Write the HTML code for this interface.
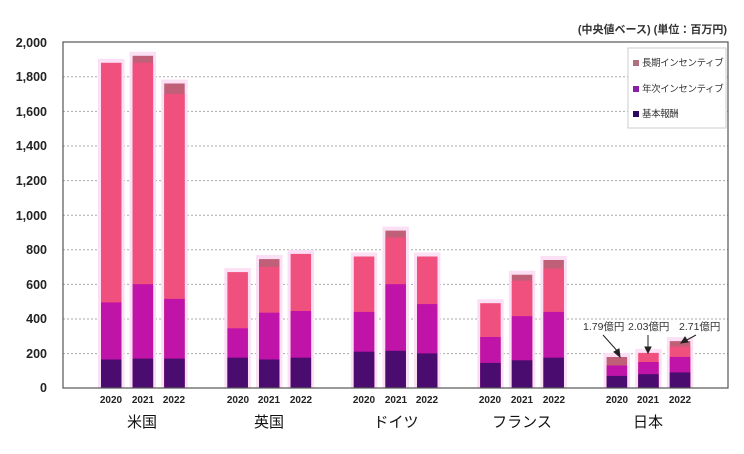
<!DOCTYPE html>
<html><head><meta charset="utf-8"><style>
body{margin:0;background:#fff;}
svg{display:block;font-family:"Liberation Sans","Noto Sans CJK JP",sans-serif;}
.g{fill:#fbe0f5}.c{fill:#c06078}.l{fill:#f0507d}.a{fill:#c013a8}.b{fill:#4a0c6e}
</style></head><body>
<svg width="744" height="454" viewBox="0 0 744 454">
<rect width="744" height="454" fill="#fff"/>
<g stroke="#aaa" stroke-dasharray="2,2" stroke-width="1">
<line x1="63" x2="728" y1="76.8" y2="76.8"/><line x1="63" x2="728" y1="111.4" y2="111.4"/>
<line x1="63" x2="728" y1="146" y2="146"/><line x1="63" x2="728" y1="180.6" y2="180.6"/>
<line x1="63" x2="728" y1="215.2" y2="215.2"/><line x1="63" x2="728" y1="249.8" y2="249.8"/>
<line x1="63" x2="728" y1="284.4" y2="284.4"/><line x1="63" x2="728" y1="319" y2="319"/>
<line x1="63" x2="728" y1="353.6" y2="353.6"/>
</g>
<g>
<!-- US -->
<rect class="g" x="98" y="58.8" width="26.5" height="329.2"/><rect class="l" x="101" y="62.8" width="20.5" height="325.2"/><rect class="a" x="101" y="302.4" width="20.5" height="85.6"/><rect class="b" x="101" y="359.5" width="20.5" height="28.5"/>
<rect class="g" x="129.6" y="51.8" width="26.5" height="336.2"/><rect class="c" x="132.6" y="55.8" width="20.5" height="332.2"/><rect class="l" x="132.6" y="62.8" width="20.5" height="325.2"/><rect class="a" x="132.6" y="284.2" width="20.5" height="103.8"/><rect class="b" x="132.6" y="358.6" width="20.5" height="29.4"/>
<rect class="g" x="161.2" y="79.5" width="26.5" height="308.5"/><rect class="c" x="164.2" y="83.5" width="20.5" height="304.5"/><rect class="l" x="164.2" y="93.9" width="20.5" height="294.1"/><rect class="a" x="164.2" y="298.9" width="20.5" height="89.1"/><rect class="b" x="164.2" y="358.6" width="20.5" height="29.4"/>
<!-- UK -->
<rect class="g" x="224.4" y="268.1" width="26.5" height="119.9"/><rect class="l" x="227.4" y="272.1" width="20.5" height="115.9"/><rect class="a" x="227.4" y="328.3" width="20.5" height="59.7"/><rect class="b" x="227.4" y="357.7" width="20.5" height="30.3"/>
<rect class="g" x="256" y="255.1" width="26.5" height="132.9"/><rect class="c" x="259" y="259.1" width="20.5" height="128.9"/><rect class="l" x="259" y="266.9" width="20.5" height="121.1"/><rect class="a" x="259" y="312.7" width="20.5" height="75.3"/><rect class="b" x="259" y="359.5" width="20.5" height="28.5"/>
<rect class="g" x="287.6" y="249.9" width="26.5" height="138.1"/><rect class="l" x="290.6" y="253.9" width="20.5" height="134.1"/><rect class="a" x="290.6" y="311" width="20.5" height="77"/><rect class="b" x="290.6" y="357.7" width="20.5" height="30.3"/>
<!-- Germany -->
<rect class="g" x="350.8" y="252.5" width="26.5" height="135.5"/><rect class="l" x="353.8" y="256.5" width="20.5" height="131.5"/><rect class="a" x="353.8" y="311.9" width="20.5" height="76.1"/><rect class="b" x="353.8" y="351.7" width="20.5" height="36.3"/>
<rect class="g" x="382.4" y="226.6" width="26.5" height="161.4"/><rect class="c" x="385.4" y="230.6" width="20.5" height="157.4"/><rect class="l" x="385.4" y="237.5" width="20.5" height="150.5"/><rect class="a" x="385.4" y="284.2" width="20.5" height="103.8"/><rect class="b" x="385.4" y="350.8" width="20.5" height="37.2"/>
<rect class="g" x="414" y="252.5" width="26.5" height="135.5"/><rect class="l" x="417" y="256.5" width="20.5" height="131.5"/><rect class="a" x="417" y="304.1" width="20.5" height="83.9"/><rect class="b" x="417" y="353.4" width="20.5" height="34.6"/>
<!-- France -->
<rect class="g" x="477.2" y="299.2" width="26.5" height="88.8"/><rect class="l" x="480.2" y="303.2" width="20.5" height="84.8"/><rect class="a" x="480.2" y="337" width="20.5" height="51"/><rect class="b" x="480.2" y="362.9" width="20.5" height="25.1"/>
<rect class="g" x="508.8" y="270.7" width="26.5" height="117.3"/><rect class="c" x="511.8" y="274.7" width="20.5" height="113.3"/><rect class="l" x="511.8" y="280.7" width="20.5" height="107.3"/><rect class="a" x="511.8" y="316.2" width="20.5" height="71.8"/><rect class="b" x="511.8" y="360.3" width="20.5" height="27.7"/>
<rect class="g" x="540.4" y="256" width="26.5" height="132"/><rect class="c" x="543.4" y="260" width="20.5" height="128"/><rect class="l" x="543.4" y="268.6" width="20.5" height="119.4"/><rect class="a" x="543.4" y="311.9" width="20.5" height="76.1"/><rect class="b" x="543.4" y="357.7" width="20.5" height="30.3"/>
<!-- Japan -->
<rect class="g" x="603.6" y="353" width="26.5" height="35"/><rect class="c" x="606.6" y="357" width="20.5" height="31"/><rect class="a" x="606.6" y="365.5" width="20.5" height="22.5"/><rect class="b" x="606.6" y="375.9" width="20.5" height="12.1"/>
<rect class="g" x="635.2" y="348.9" width="26.5" height="39.1"/><rect class="l" x="638.2" y="352.9" width="20.5" height="35.1"/><rect class="a" x="638.2" y="362" width="20.5" height="26"/><rect class="b" x="638.2" y="374.2" width="20.5" height="13.8"/>
<rect class="g" x="666.8" y="337.1" width="26.5" height="50.9"/><rect class="c" x="669.8" y="341.1" width="20.5" height="46.9"/><rect class="l" x="669.8" y="346.5" width="20.5" height="41.5"/><rect class="a" x="669.8" y="356.9" width="20.5" height="31.1"/><rect class="b" x="669.8" y="372.4" width="20.5" height="15.6"/>
</g>
<rect x="63" y="42" width="665" height="346" fill="none" stroke="#555" stroke-width="1.2"/>
<g font-size="12.5" font-weight="bold" fill="#222" text-anchor="end">
<text x="47" y="47">2,000</text><text x="47" y="81">1,800</text><text x="47" y="116">1,600</text>
<text x="47" y="150">1,400</text><text x="47" y="185">1,200</text><text x="47" y="220">1,000</text>
<text x="47" y="254">800</text><text x="47" y="289">600</text><text x="47" y="323">400</text>
<text x="47" y="358">200</text><text x="47" y="392">0</text>
</g>
<text x="727" y="33" font-size="11" font-weight="bold" fill="#333" text-anchor="end">(中央値ベース) (単位：百万円)</text>
<rect x="628" y="48" width="98" height="80" fill="#fff" stroke="#ccc"/>
<g font-size="9.5" fill="#333" letter-spacing="-0.4">
<rect x="633" y="60" width="6" height="6" fill="#b07080"/><text x="642" y="66">長期インセンティブ</text>
<rect x="633" y="86" width="6" height="6" fill="#8a20a8"/><text x="642" y="92">年次インセンティブ</text>
<rect x="633" y="111" width="6" height="6" fill="#2a0a5e"/><text x="642" y="117">基本報酬</text>
</g>
<g font-size="10.5" fill="#333">
<text x="583" y="330">1.79億円</text><text x="628" y="330">2.03億円</text><text x="679" y="330">2.71億円</text>
</g>
<g stroke="#222" stroke-width="1" fill="#222">
<line x1="603" y1="335" x2="620" y2="354"/><polygon points="620,357 614,352 619,349"/>
<line x1="648" y1="335" x2="648" y2="349"/><polygon points="648,353 645,347 651,347"/>
<line x1="696" y1="335" x2="685" y2="341"/><polygon points="681,343 685,337 688,342"/>
</g>
<g font-size="10" font-weight="bold" fill="#222" text-anchor="middle">
<text x="111" y="403">2020</text><text x="143" y="403">2021</text><text x="174" y="403">2022</text>
<text x="238" y="403">2020</text><text x="269" y="403">2021</text><text x="301" y="403">2022</text>
<text x="364" y="403">2020</text><text x="396" y="403">2021</text><text x="427" y="403">2022</text>
<text x="490" y="403">2020</text><text x="522" y="403">2021</text><text x="554" y="403">2022</text>
<text x="617" y="403">2020</text><text x="648" y="403">2021</text><text x="680" y="403">2022</text>
</g>
<g font-size="15" fill="#111" text-anchor="middle">
<text x="142" y="427">米国</text><text x="269" y="427">英国</text><text x="396" y="427">ドイツ</text>
<text x="522" y="427">フランス</text><text x="648" y="427">日本</text>
</g>
</svg>
</body></html>
